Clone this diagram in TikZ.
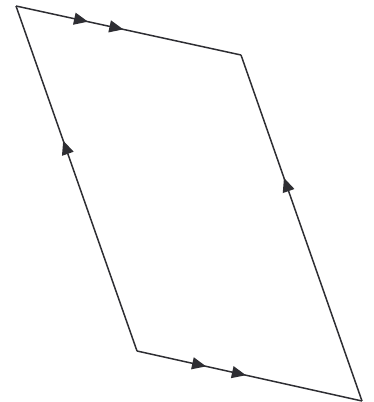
\documentclass[tikz,border=0pt]{standalone}
\usetikzlibrary{decorations.markings,arrows.meta}
\definecolor{ink}{HTML}{2E2E33}
\tikzset{
  edge/.style={draw=ink, line width=1.5pt},
  tip/.style={Triangle[length=14pt,width=12pt]},
  onearrow/.style={postaction={decorate},decoration={markings,mark=at position #1 with {\arrow[ink]{Triangle[length=14pt,width=12pt]}}}},
  twoarrows/.style 2 args={postaction={decorate},decoration={markings,
     mark=at position #1 with {\arrow[ink]{Triangle[length=14pt,width=12pt]}},
     mark=at position #2 with {\arrow[ink]{Triangle[length=14pt,width=12pt]}}}}
}
\begin{document}
\begin{tikzpicture}[x=1pt,y=-1pt]
\useasboundingbox (0,0) rectangle (373,402);
\coordinate (TL) at (16,6);
\coordinate (TR) at (241,55);
\coordinate (BR) at (362,401);
\coordinate (BL) at (137,351);
\draw[edge, twoarrows={0.32}{0.477}] (TL) -- (TR);
\draw[edge, twoarrows={0.307}{0.484}] (BL) -- (BR);
\draw[edge, onearrow=0.61] (BL) -- (TL);
\draw[edge, onearrow=0.645] (BR) -- (TR);
\end{tikzpicture}
\end{document}
